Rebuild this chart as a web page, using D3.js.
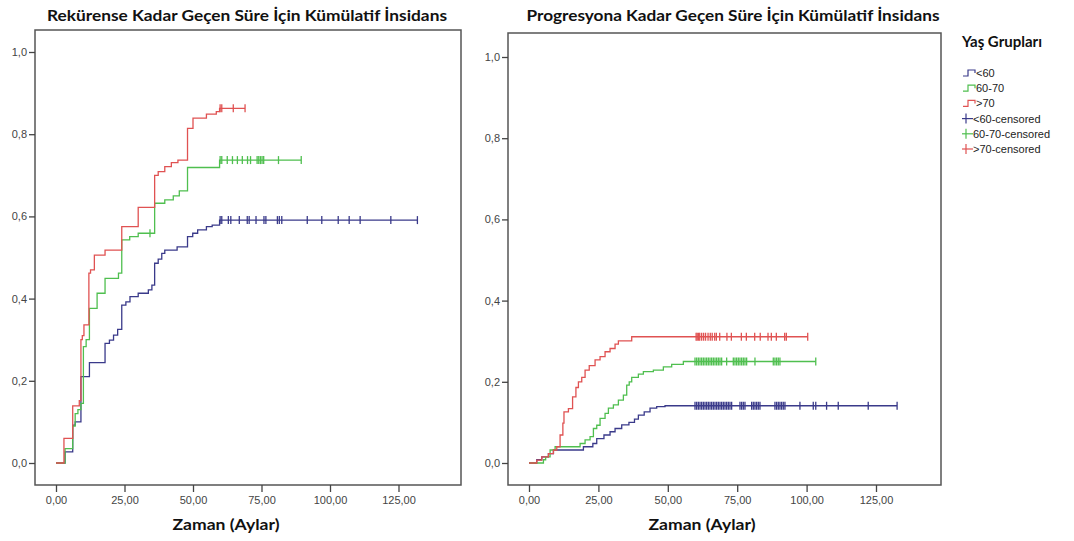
<!DOCTYPE html>
<html><head><meta charset="utf-8">
<script src="https://cdn.jsdelivr.net/npm/d3@7"></script>
<style>body{margin:0;background:#fff;}svg{display:block;}</style>
</head><body>
<svg id="chart" width="1074" height="541"></svg>
<script>
// ---------- DATA ----------
const seriesNames = ["<60", "60-70", ">70"];
const censoredNames = ["<60-censored", "60-70-censored", ">70-censored"];
const xTicks = [0, 25, 50, 75, 100, 125];
const yTicks = [0, 0.2, 0.4, 0.6, 0.8, 1.0];

// Left panel: recurrence
const recLt60Times = [3.3, 6.1, 7, 9.1, 12.2, 17.9, 19.5, 21, 22.5, 24, 25.5, 27, 30, 33.7, 35, 36, 37.3, 38.6, 39.7, 44.2, 48, 49.9, 51.7, 54.9, 57, 59.7];
const recLt60Vals  = [0.027, 0.092, 0.10, 0.21, 0.244, 0.291, 0.299, 0.311, 0.325, 0.384, 0.392, 0.405, 0.413, 0.421, 0.433, 0.486, 0.496, 0.51, 0.518, 0.526, 0.551, 0.559, 0.567, 0.575, 0.579, 0.591];
const recLt60Cens  = [59.9, 60.5, 62.9, 63.8, 66.9, 69.8, 70.5, 73, 75.9, 76.6, 80.8, 81.5, 82.4, 91.7, 97, 103, 107, 111, 122.2, 131.9];

const rec6070Times = [3.3, 6.1, 7, 8, 9.1, 10, 11, 12.2, 15, 17.9, 22.8, 24, 26.9, 30, 36, 39.7, 42.8, 45, 48, 59.7];
const rec6070Vals  = [0.035, 0.09, 0.12, 0.13, 0.145, 0.283, 0.30, 0.376, 0.413, 0.449, 0.462, 0.543, 0.551, 0.559, 0.632, 0.64, 0.65, 0.662, 0.719, 0.737];
const rec6070Cens  = [34.3, 59.9, 60.5, 62.5, 64.4, 66.2, 68, 69.9, 71, 73.4, 74, 74.6, 75.2, 75.8, 81.2, 89.5];

const recGt70Times = [2.9, 6.1, 8.5, 9.1, 9.6, 10.2, 12, 12.6, 14, 17.9, 24, 30, 36, 37.3, 39.7, 42.1, 44.5, 48, 50, 54.9, 58.5, 59.7];
const recGt70Vals  = [0.06, 0.139, 0.152, 0.30, 0.31, 0.336, 0.462, 0.47, 0.506, 0.518, 0.575, 0.622, 0.70, 0.709, 0.721, 0.731, 0.737, 0.814, 0.839, 0.849, 0.855, 0.863];
const recGt70Cens  = [59.9, 60.5, 64.7, 69];

// Right panel: progression
const progLt60Times = [2.8, 4.6, 7, 8.8, 19.6, 23, 24.4, 27, 29.2, 31, 33.4, 36, 38, 39.4, 41.5, 43.6, 46, 49];
const progLt60Vals  = [0.008, 0.015, 0.023, 0.032, 0.04, 0.048, 0.06, 0.069, 0.077, 0.085, 0.094, 0.1, 0.108, 0.118, 0.126, 0.135, 0.139, 0.141];
const progLt60Cens  = [59.8, 60.4, 61.0, 61.6, 62.2, 62.8, 63.4, 64.0, 64.6, 65.2, 65.8, 66.4, 67.0, 67.6, 68.2, 68.8, 69.4, 70.0, 70.6, 71.2, 71.8, 72.4, 73.0, 76.0, 76.6, 77.2, 77.8, 80.2, 80.8, 81.4, 82.0, 82.6, 83.2, 88.6, 89.2, 89.8, 90.4, 91.0, 91.6, 92.2, 97.6, 102.4, 103.3, 107.2, 111.4, 122.2, 132.6];

const prog6070Times = [5.2, 6, 7.6, 9.4, 18.4, 20.2, 22, 23.2, 24.4, 25.6, 27.4, 28.6, 30.4, 32.2, 34, 35.2, 36.1, 37, 39.4, 41.2, 44.8, 48.4, 51.4, 55.6];
const prog6070Vals  = [0.008, 0.015, 0.032, 0.04, 0.048, 0.057, 0.065, 0.085, 0.093, 0.11, 0.122, 0.135, 0.143, 0.155, 0.167, 0.192, 0.2, 0.211, 0.219, 0.225, 0.229, 0.237, 0.243, 0.25];
const prog6070Cens  = [59.8, 60.4, 61.0, 61.6, 62.2, 62.8, 63.4, 64.0, 64.6, 65.2, 65.8, 66.4, 67.0, 67.6, 68.2, 68.8, 69.4, 71.2, 73.6, 74.2, 74.8, 75.4, 76.0, 76.6, 77.2, 77.8, 78.4, 81.4, 88.0, 88.6, 89.2, 89.8, 90.4, 103.3];

const progGt70Times = [2.8, 4.6, 7, 8.8, 10, 11.2, 12.2, 12.6, 14.2, 15.7, 16.9, 17.8, 19, 20.2, 21.7, 23.8, 25.6, 27.4, 29.2, 31, 32.2, 37];
const progGt70Vals  = [0.007, 0.015, 0.023, 0.032, 0.04, 0.069, 0.098, 0.126, 0.134, 0.163, 0.186, 0.2, 0.211, 0.229, 0.24, 0.254, 0.262, 0.274, 0.282, 0.293, 0.301, 0.311];
const progGt70Cens  = [60.2, 60.6, 61.1, 61.5, 62.2, 62.9, 63.6, 64.5, 65.3, 66.0, 66.9, 67.5, 68.7, 71.3, 72.9, 76.5, 78.3, 81.3, 83.3, 86.1, 87.3, 89.1, 92.1, 92.7, 100.4];

const colors = ["#3a3a8a", "#4fbf4f", "#e05252"];

// ---------- DRAW ----------
const svg = d3.select("#chart");
const fmtX = d => d3.format(".2f")(d).replace(".", ",");
const fmtY = d => d3.format(".1f")(d).replace(".", ",");

function panel(cfg) {
  const g = svg.append("g");
  const x = d3.scaleLinear().domain([0, 125]).range(cfg.xr);
  const y = d3.scaleLinear().domain([0, 1]).range(cfg.yr);
  g.append("rect").attr("x", cfg.frame[0]).attr("y", cfg.frame[1])
    .attr("width", cfg.frame[2] - cfg.frame[0]).attr("height", cfg.frame[3] - cfg.frame[1])
    .attr("fill", "none").attr("stroke", "#555").attr("stroke-width", 1.5);
  const yAx = g.append("g").attr("transform", `translate(${cfg.frame[0]},0)`)
    .call(d3.axisLeft(y).tickValues(yTicks).tickFormat(fmtY).tickSize(6).tickPadding(2));
  const xAx = g.append("g").attr("transform", `translate(0,${cfg.frame[3]})`)
    .call(d3.axisBottom(x).tickValues(xTicks).tickFormat(fmtX).tickSize(7).tickPadding(4));
  [yAx, xAx].forEach(a => {
    a.select(".domain").remove();
    a.selectAll("line").attr("stroke", "#444").attr("stroke-width", 1.3);
    a.selectAll("text").attr("fill", "#444").style("font-family", "'Liberation Sans', Arial, sans-serif").style("font-size", "11px");
  });
  const line = d3.line().x(d => x(d[0])).y(d => y(d[1])).curve(d3.curveStepAfter);
  cfg.series.forEach((s, i) => {
    const pts = [[0, 0]].concat(s.t.map((t, j) => [t, s.v[j]]));
    const last = s.v[s.v.length - 1];
    const endT = Math.max(s.t[s.t.length - 1], d3.max(s.c));
    pts.push([endT, last]);
    const valueAt = c => { let v = 0; s.t.forEach((t, j) => { if (t <= c) v = s.v[j]; }); return v; };
    g.append("path").attr("d", line(pts)).attr("fill", "none")
      .attr("stroke", colors[i]).attr("stroke-width", 1.3);
    g.selectAll(null).data(s.c).enter().append("line")
      .attr("x1", d => x(d)).attr("x2", d => x(d))
      .attr("y1", d => y(valueAt(d)) - 4).attr("y2", d => y(valueAt(d)) + 4)
      .attr("stroke", colors[i]).attr("stroke-width", 1.3);
  });
  g.append("text").attr("x", cfg.titleX).attr("y", 21).attr("text-anchor", "middle")
    .style("font-family", "Lato, 'Open Sans', sans-serif").style("font-weight", "bold").style("font-size", "15px")
    .attr("fill", "#111").attr("textLength", cfg.titleW).attr("lengthAdjust", "spacingAndGlyphs").text(cfg.title);
  g.append("text").attr("x", cfg.xlabX).attr("y", 530).attr("text-anchor", "middle")
    .style("font-family", "Lato, 'Open Sans', sans-serif").style("font-weight", "bold").style("font-size", "16px")
    .attr("fill", "#111").attr("textLength", 107).attr("lengthAdjust", "spacingAndGlyphs").text("Zaman (Aylar)");
}

panel({
  xr: [56, 398.5], yr: [463, 52], frame: [35, 30, 461, 485],
  title: "Rekürense Kadar Geçen Süre İçin Kümülatif İnsidans", titleX: 247, titleW: 400, xlabX: 226,
  series: [
    {t: recLt60Times, v: recLt60Vals, c: recLt60Cens},
    {t: rec6070Times, v: rec6070Vals, c: rec6070Cens},
    {t: recGt70Times, v: recGt70Vals, c: recGt70Cens}
  ]
});
panel({
  xr: [529, 876], yr: [463, 57], frame: [508, 33, 941, 485],
  title: "Progresyona Kadar Geçen Süre İçin Kümülatif İnsidans", titleX: 733, titleW: 413, xlabX: 702,
  series: [
    {t: progLt60Times, v: progLt60Vals, c: progLt60Cens},
    {t: prog6070Times, v: prog6070Vals, c: prog6070Cens},
    {t: progGt70Times, v: progGt70Vals, c: progGt70Cens}
  ]
});

// legend
const lg = svg.append("g");
lg.append("text").attr("x", 962).attr("y", 47)
  .style("font-family", "Lato, 'Open Sans', sans-serif").style("font-weight", "bold").style("font-size", "15px")
  .attr("fill", "#111").text("Yaş Grupları");
const rowY = i => 73 + i * 15.2;
seriesNames.forEach((n, i) => {
  const yy = rowY(i);
  lg.append("path").attr("d", `M963,${yy + 3}H968V${yy - 3}H975V${yy}`).attr("fill", "none")
    .attr("stroke", colors[i]).attr("stroke-width", 1.2);
  lg.append("text").attr("x", 976).attr("y", yy + 4).text(n)
    .style("font-family", "'Liberation Sans', Arial, sans-serif").style("font-size", "11px").attr("fill", "#222");
});
censoredNames.forEach((n, i) => {
  const yy = rowY(i + 3);
  lg.append("line").attr("x1", 962).attr("x2", 973).attr("y1", yy).attr("y2", yy).attr("stroke", colors[i]).attr("stroke-width", 1.2);
  lg.append("line").attr("x1", 966).attr("x2", 966).attr("y1", yy - 5).attr("y2", yy + 5).attr("stroke", colors[i]).attr("stroke-width", 1.2);
  lg.append("text").attr("x", 973).attr("y", yy + 4).text(n)
    .style("font-family", "'Liberation Sans', Arial, sans-serif").style("font-size", "11px").attr("fill", "#222");
});
</script>
</body></html>
